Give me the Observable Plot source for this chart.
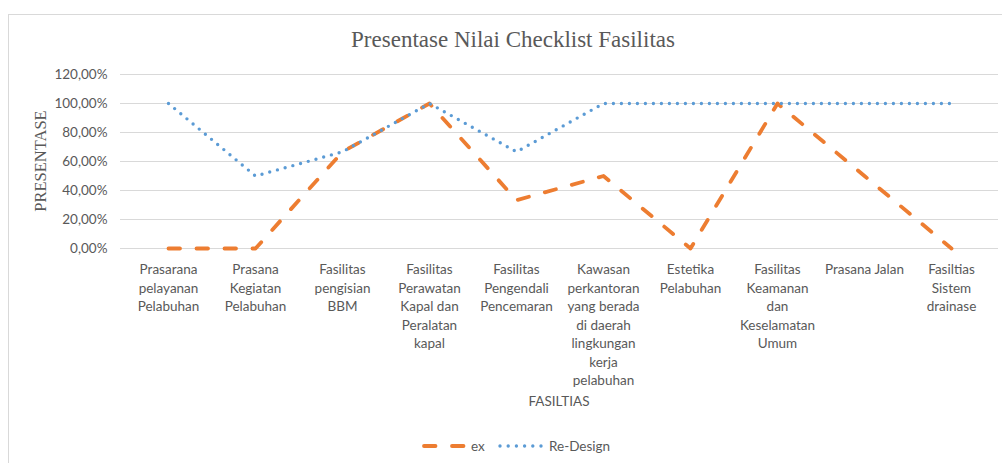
<!DOCTYPE html>
<html>
<head>
<meta charset="utf-8">
<script src="https://cdn.jsdelivr.net/npm/d3@7"></script>
<script src="https://cdn.jsdelivr.net/npm/@observablehq/plot@0.6"></script>
<style>
  html, body { margin: 0; padding: 0; background: #fff; }
  body { width: 1002px; height: 463px; overflow: hidden; position: relative; font-family: Lato, "Noto Sans", sans-serif; color: #595959; }
  #frame { position: absolute; left: 8px; top: 14px; width: 1100px; height: 520px; border: 1px solid #d9d9d9; box-sizing: border-box; }
  #title { position: absolute; left: 513px; top: 26px; transform: translateX(-50%); font-family: "Liberation Serif", "DejaVu Serif", serif; font-size: 23px; line-height: 28px; color: #595959; white-space: nowrap; }
  #ytitle { position: absolute; left: 41px; top: 161px; transform: translate(-50%, -50%) rotate(-90deg); font-family: "Liberation Serif", "DejaVu Serif", serif; font-size: 16.5px; color: #595959; white-space: nowrap; }
  #xtitle { position: absolute; left: 559px; top: 393px; transform: translateX(-50%); font-size: 13.5px; color: #595959; white-space: nowrap; }
  #chart { position: absolute; left: 0; top: 60px; }
  #legend { position: absolute; left: 0; top: 437px; width: 1002px; height: 18px; }
  .leg { position: absolute; top: 0; font-size: 13.5px; line-height: 18px; color: #595959; white-space: nowrap; }
</style>
</head>
<body>
<div id="frame"></div>
<div id="title">Presentase Nilai Checklist Fasilitas</div>
<div id="ytitle">PRESENTASE</div>
<div id="chart"></div>
<div id="xtitle">FASILTIAS</div>
<div id="legend"></div>
<script>
// ---- data ----
const categories = [
  "Prasarana pelayanan Pelabuhan",
  "Prasana Kegiatan Pelabuhan",
  "Fasilitas pengisian BBM",
  "Fasilitas Perawatan Kapal dan Peralatan kapal",
  "Fasilitas Pengendali Pencemaran",
  "Kawasan perkantoran yang berada di daerah lingkungan kerja pelabuhan",
  "Estetika Pelabuhan",
  "Fasilitas Keamanan dan Keselamatan Umum",
  "Prasana Jalan",
  "Fasiltias Sistem drainase"
];
const tickLabels = [
  "Prasarana\npelayanan\nPelabuhan",
  "Prasana\nKegiatan\nPelabuhan",
  "Fasilitas\npengisian\nBBM",
  "Fasilitas\nPerawatan\nKapal dan\nPeralatan\nkapal",
  "Fasilitas\nPengendali\nPencemaran",
  "Kawasan\nperkantoran\nyang berada\ndi daerah\nlingkungan\nkerja\npelabuhan",
  "Estetika\nPelabuhan",
  "Fasilitas\nKeamanan\ndan\nKeselamatan\nUmum",
  "Prasana Jalan",
  "Fasiltias\nSistem\ndrainase"
];
const exValues =       [0, 0,   0.6667, 1, 0.3333, 0.5, 0, 1, 0.5, 0];
const redesignValues = [1, 0.5, 0.6667, 1, 0.6667, 1,   1, 1, 1,   1];
const yTicks = [0, 0.2, 0.4, 0.6, 0.8, 1.0, 1.2];
const seriesNames = ["ex", "Re-Design"];
const colors = { "ex": "#ED7D31", "Re-Design": "#5B9BD5" };

const exData = categories.map((c, i) => ({ cat: c, value: exValues[i] }));
const rdData = categories.map((c, i) => ({ cat: c, value: redesignValues[i] }));
const labelOf = new Map(categories.map((c, i) => [c, tickLabels[i]]));
const pct = d => (d * 100).toFixed(2).replace(".", ",") + "%";

const chart = Plot.plot({
  width: 1002,
  height: 360,
  marginLeft: 120,
  marginRight: 4,
  marginTop: 14,
  marginBottom: 172,
  style: { fontFamily: "Lato, 'Noto Sans', sans-serif", fontSize: "13.5px", color: "#595959", background: "transparent", overflow: "visible" },
  x: { type: "point", domain: categories, padding: 0.5 },
  y: { domain: [0, 1.2] },
  marks: [
    Plot.gridY(yTicks, { stroke: "#d9d9d9", strokeOpacity: 1, strokeWidth: 1 }),
    Plot.axisY({ ticks: yTicks, tickSize: 0, tickPadding: 13, tickFormat: pct, label: null, fontSize: 13.5 }),
    Plot.axisX({ tickSize: 0, tickPadding: 12.5, tickFormat: d => labelOf.get(d), lineHeight: 1.37, label: null, fontSize: 13.5 }),
    Plot.lineY(exData, { x: "cat", y: "value", stroke: colors["ex"], strokeWidth: 3.8, strokeDasharray: "11.5 16.5", strokeLinecap: "round", strokeLinejoin: "round" }),
    Plot.lineY(rdData, { x: "cat", y: "value", stroke: colors["Re-Design"], strokeWidth: 3.4, strokeDasharray: "0 8", strokeLinecap: "round", strokeLinejoin: "round" })
  ]
});
document.getElementById("chart").appendChild(chart);

// legend
const legend = document.getElementById("legend");
legend.innerHTML = `
  <svg class="leg" style="left:418px" width="52" height="18"><line x1="6" y1="9" x2="46" y2="9" stroke="${colors["ex"]}" stroke-width="3.8" stroke-linecap="round" stroke-dasharray="11.5 16.5"/></svg>
  <div class="leg" style="left:471px">${seriesNames[0]}</div>
  <svg class="leg" style="left:496px" width="52" height="18"><line x1="4" y1="9" x2="47" y2="9" stroke="${colors["Re-Design"]}" stroke-width="3.4" stroke-linecap="round" stroke-dasharray="0 8.2"/></svg>
  <div class="leg" style="left:549px">${seriesNames[1]}</div>
`;
</script>
</body>
</html>
